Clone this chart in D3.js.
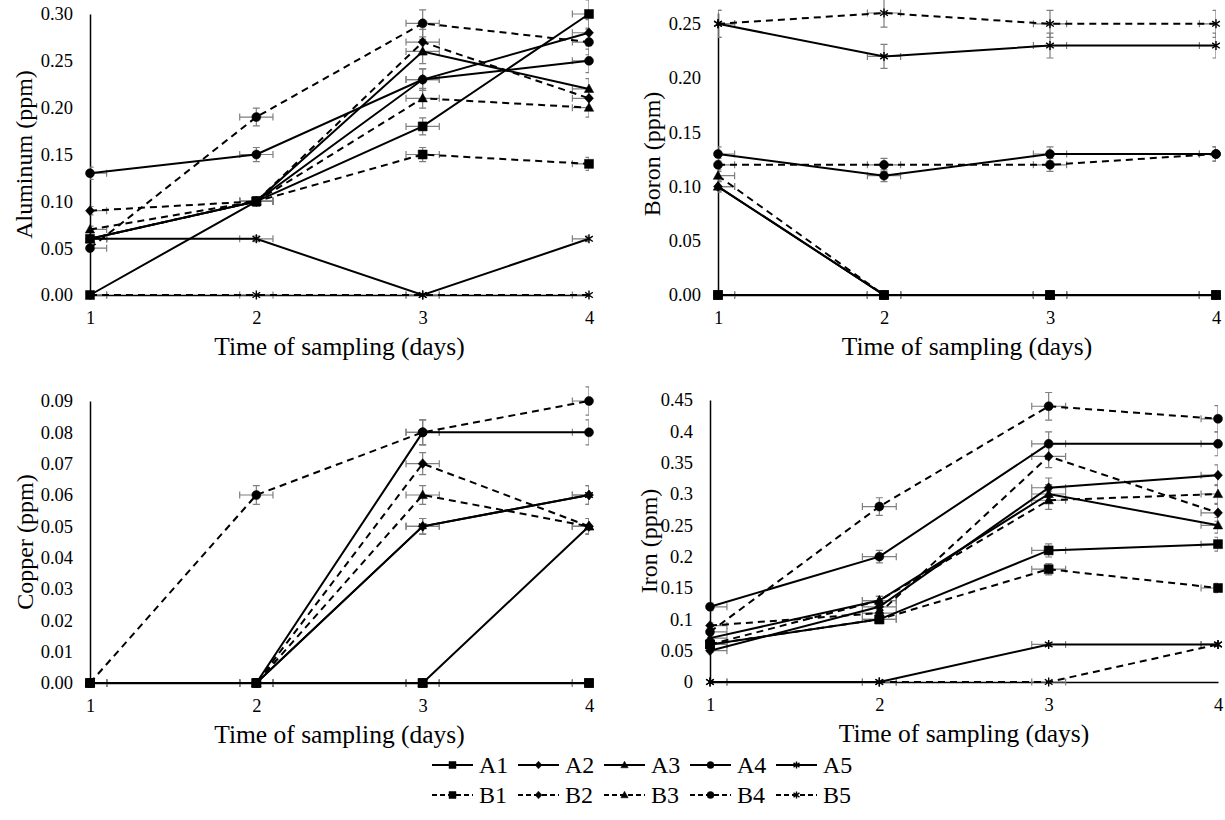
<!DOCTYPE html>
<html>
<head>
<meta charset="utf-8">
<script src="https://cdn.jsdelivr.net/npm/d3@7"></script>
<style>
  body { margin: 0; background: #fff; }
  svg { display: block; }
  svg text { font-family: "Liberation Serif", "Times New Roman", serif !important; fill: #000; }
</style>
</head>
<body>
<svg width="1225" height="820"></svg>
<script>
  const days = [1, 2, 3, 4];
  const seriesNames = ['A1', 'A2', 'A3', 'A4', 'A5', 'B1', 'B2', 'B3', 'B4', 'B5'];

  // values per series, in the order of seriesNames
  const aluminum = [
    [0.00, 0.10, 0.18, 0.30],
    [0.06, 0.10, 0.23, 0.28],
    [0.06, 0.10, 0.26, 0.22],
    [0.13, 0.15, 0.23, 0.25],
    [0.06, 0.06, 0.00, 0.06],
    [0.06, 0.10, 0.15, 0.14],
    [0.09, 0.10, 0.27, 0.21],
    [0.07, 0.10, 0.21, 0.20],
    [0.05, 0.19, 0.29, 0.27],
    [0.00, 0.00, 0.00, 0.00]
  ];
  const boron = [
    [0.00, 0.00, 0.00, 0.00],
    [0.10, 0.00, 0.00, 0.00],
    [0.10, 0.00, 0.00, 0.00],
    [0.13, 0.11, 0.13, 0.13],
    [0.25, 0.22, 0.23, 0.23],
    [0.00, 0.00, 0.00, 0.00],
    [0.00, 0.00, 0.00, 0.00],
    [0.11, 0.00, 0.00, 0.00],
    [0.12, 0.12, 0.12, 0.13],
    [0.25, 0.26, 0.25, 0.25]
  ];
  const copper = [
    [0.00, 0.00, 0.00, 0.00],
    [0.00, 0.00, 0.05, 0.06],
    [0.00, 0.00, 0.00, 0.05],
    [0.00, 0.00, 0.08, 0.08],
    [0.00, 0.00, 0.05, 0.06],
    [0.00, 0.00, 0.00, 0.00],
    [0.00, 0.00, 0.07, 0.05],
    [0.00, 0.00, 0.06, 0.05],
    [0.00, 0.06, 0.08, 0.09],
    [0.00, 0.00, 0.00, 0.00]
  ];
  const iron = [
    [0.06, 0.10, 0.21, 0.22],
    [0.05, 0.12, 0.31, 0.33],
    [0.07, 0.13, 0.30, 0.25],
    [0.12, 0.20, 0.38, 0.38],
    [0.00, 0.00, 0.06, 0.06],
    [0.06, 0.10, 0.18, 0.15],
    [0.09, 0.11, 0.36, 0.27],
    [0.06, 0.13, 0.29, 0.30],
    [0.08, 0.28, 0.44, 0.42],
    [0.00, 0.00, 0.00, 0.06]
  ];

  const aluminumTicks = [0, 0.05, 0.10, 0.15, 0.20, 0.25, 0.30];
  const boronTicks = [0, 0.05, 0.10, 0.15, 0.20, 0.25];
  const copperTicks = [0, 0.01, 0.02, 0.03, 0.04, 0.05, 0.06, 0.07, 0.08, 0.09];
  const ironTicks = [0, 0.05, 0.1, 0.15, 0.2, 0.25, 0.3, 0.35, 0.4, 0.45];

  const xErr = 0.1;      // days
  const yErrFrac = 0.05; // relative error shown on points

  const svg = d3.select('svg');

  const markerTypes = ['square', 'diamond', 'triangle', 'circle', 'star'];

  const markerPath = (type, s) => {
    const h = s / 2;
    if (type === 'square') return `M${-h},${-h}H${h}V${h}H${-h}Z`;
    if (type === 'diamond') return `M0,${-h * 1.1}L${h},0L0,${h * 1.1}L${-h},0Z`;
    if (type === 'triangle') return `M0,${-h * 1.1}L${h * 1.05},${h * 0.8}L${-h * 1.05},${h * 0.8}Z`;
    if (type === 'circle') return d3.arc()({ innerRadius: 0, outerRadius: h, startAngle: 0, endAngle: 2 * Math.PI });
    return `M0,${-h}V${h}M${-h * 0.85},${-h * 0.6}L${h * 0.85},${h * 0.6}M${-h * 0.85},${h * 0.6}L${h * 0.85},${-h * 0.6}`;
  };

  const drawMarker = (g, type, x, y, s) => {
    const isStar = type === 'star';
    g.append('path')
      .attr('transform', `translate(${x},${y})`)
      .attr('d', markerPath(type, s))
      .attr('fill', isStar ? 'none' : '#000')
      .attr('stroke', '#000')
      .attr('stroke-width', isStar ? 1.4 : 0.5);
  };

  const panels = [
    { id: 'al', title: 'Aluminum (ppm)', data: aluminum, ticks: aluminumTicks, yMax: 0.30, fmt: d3.format('.2f'),
      left: 90, right: 589, top: 14, bottom: 295, titleX: 24 },
    { id: 'b', title: 'Boron (ppm)', data: boron, ticks: boronTicks, yMax: 0.26, fmt: d3.format('.2f'),
      left: 718, right: 1216, top: 13, bottom: 295, titleX: 652 },
    { id: 'cu', title: 'Copper (ppm)', data: copper, ticks: copperTicks, yMax: 0.09, fmt: d3.format('.2f'),
      left: 90, right: 589, top: 401, bottom: 683, titleX: 25 },
    { id: 'fe', title: 'Iron (ppm)', data: iron, ticks: ironTicks, yMax: 0.45, fmt: d => String(+d.toFixed(2)),
      left: 710, right: 1218, top: 400, bottom: 682, titleX: 649 }
  ];

  panels.forEach(p => {
    const x = d3.scaleLinear().domain([1, 4]).range([p.left, p.right]);
    const y = d3.scaleLinear().domain([0, p.yMax]).range([p.bottom, p.top]);

    const g = svg.append('g');

    svg.append('clipPath').attr('id', `clip-${p.id}`)
      .append('rect')
      .attr('x', p.left).attr('y', p.top - 30)
      .attr('width', p.right - p.left).attr('height', p.bottom - p.top + 40);

    // axes
    const yAxisG = g.append('g')
      .attr('transform', `translate(${p.left},0)`)
      .call(d3.axisLeft(y).tickValues(p.ticks).tickFormat(p.fmt).tickSize(0).tickPadding(17));
    yAxisG.attr('font-size', 18.5);
    yAxisG.select('.domain').attr('stroke', '#000').attr('stroke-width', 1.5);

    const xAxisG = g.append('g')
      .attr('transform', `translate(0,${p.bottom})`)
      .call(d3.axisBottom(x).tickValues(days).tickFormat(d3.format('d')).tickSize(0).tickPadding(16));
    xAxisG.attr('font-size', 18.5);
    xAxisG.select('.domain').attr('stroke', '#000').attr('stroke-width', 1.5);

    g.append('text')
      .attr('transform', `translate(${p.titleX},${(p.top + p.bottom) / 2}) rotate(-90)`)
      .attr('text-anchor', 'middle')
      .attr('dominant-baseline', 'central')
      .attr('font-size', 24)
      .text(p.title);

    g.append('text')
      .attr('x', (p.left + p.right) / 2)
      .attr('y', p.bottom + 60)
      .attr('text-anchor', 'middle')
      .attr('font-size', 25.5)
      .text('Time of sampling (days)');

    // error bars
    const errG = g.append('g')
      .attr('clip-path', `url(#clip-${p.id})`)
      .attr('stroke', '#7f7f7f')
      .attr('stroke-width', 1.2)
      .attr('fill', 'none');

    p.data.forEach(vals => {
      vals.forEach((v, i) => {
        const cx = x(days[i]);
        const cy = y(v);
        const x0 = x(days[i] - xErr), x1 = x(days[i] + xErr);
        errG.append('path').attr('d', `M${x0},${cy}H${x1}M${x0},${cy - 3.5}V${cy + 3.5}M${x1},${cy - 3.5}V${cy + 3.5}`);
        if (v > 0) {
          const y0 = y(v * (1 - yErrFrac)), y1 = y(v * (1 + yErrFrac));
          errG.append('path').attr('d', `M${cx},${y0}V${y1}M${cx - 3.5},${y0}H${cx + 3.5}M${cx - 3.5},${y1}H${cx + 3.5}`);
        }
      });
    });

    // lines
    const lineGen = d3.line()
      .x((d, i) => x(days[i]))
      .y(d => y(d));

    p.data.forEach((vals, k) => {
      g.append('path')
        .attr('d', lineGen(vals))
        .attr('fill', 'none')
        .attr('stroke', '#000')
        .attr('stroke-width', 2)
        .attr('stroke-dasharray', k < 5 ? null : '7,5');
    });

    // markers
    p.data.forEach((vals, k) => {
      const type = markerTypes[k % 5];
      vals.forEach((v, i) => drawMarker(g, type, x(days[i]), y(v), 9));
    });
  });

  // legend
  const legend = svg.append('g');
  const legendLeft = 432;
  const legendStep = 86;
  const legendRows = [765, 795];

  seriesNames.forEach((name, k) => {
    const col = k % 5;
    const row = Math.floor(k / 5);
    const lx = legendLeft + col * legendStep;
    const ly = legendRows[row];
    legend.append('line')
      .attr('x1', lx).attr('x2', lx + 41)
      .attr('y1', ly).attr('y2', ly)
      .attr('stroke', '#000')
      .attr('stroke-width', 2)
      .attr('stroke-dasharray', row === 0 ? null : '5,3');
    drawMarker(legend, markerTypes[col], lx + 20.5, ly, 7);
    legend.append('text')
      .attr('x', lx + 47)
      .attr('y', ly)
      .attr('dominant-baseline', 'central')
      .attr('font-size', 24)
      .text(name);
  });
</script>
</body>
</html>
